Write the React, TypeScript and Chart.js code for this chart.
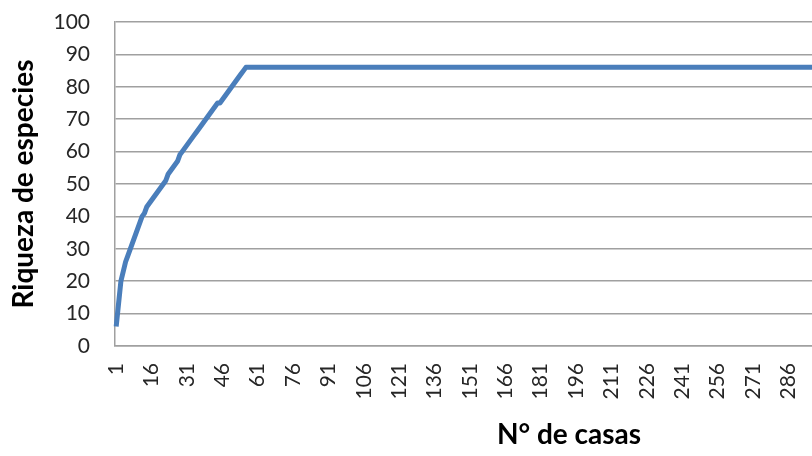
import React, { useEffect, useRef } from "react";
import { Chart, registerables } from "chart.js";

Chart.register(...registerables);

// Species richness (accumulated) per number of houses sampled
const richnessRise = [
  6, 13, 20, 23, 26, 28, 30, 32, 34, 36,
  38, 40, 41, 43, 44, 45, 46, 47, 48, 49,
  50, 51, 53, 54, 55, 56, 57, 59, 60, 61,
  62, 63, 64, 65, 66, 67, 68, 69, 70, 71,
  72, 73, 74, 75, 75, 76, 77, 78, 79, 80,
  81, 82, 83, 84, 85, 86,
];

const richnessPlateau = [
  86, 86, 86, 86, 86, 86, 86, 86, 86, 86, 86, 86, 86, 86, 86, 86, 86, 86, 86, 86,
  86, 86, 86, 86, 86, 86, 86, 86, 86, 86, 86, 86, 86, 86, 86, 86, 86, 86, 86, 86,
  86, 86, 86, 86, 86, 86, 86, 86, 86, 86, 86, 86, 86, 86, 86, 86, 86, 86, 86, 86,
  86, 86, 86, 86, 86, 86, 86, 86, 86, 86, 86, 86, 86, 86, 86, 86, 86, 86, 86, 86,
  86, 86, 86, 86, 86, 86, 86, 86, 86, 86, 86, 86, 86, 86, 86, 86, 86, 86, 86, 86,
  86, 86, 86, 86, 86, 86, 86, 86, 86, 86, 86, 86, 86, 86, 86, 86, 86, 86, 86, 86,
  86, 86, 86, 86, 86, 86, 86, 86, 86, 86, 86, 86, 86, 86, 86, 86, 86, 86, 86, 86,
  86, 86, 86, 86, 86, 86, 86, 86, 86, 86, 86, 86, 86, 86, 86, 86, 86, 86, 86, 86,
  86, 86, 86, 86, 86, 86, 86, 86, 86, 86, 86, 86, 86, 86, 86, 86, 86, 86, 86, 86,
  86, 86, 86, 86, 86, 86, 86, 86, 86, 86, 86, 86, 86, 86, 86, 86, 86, 86, 86, 86,
  86, 86, 86, 86, 86, 86, 86, 86, 86, 86, 86, 86, 86, 86, 86, 86, 86, 86, 86, 86,
  86, 86, 86, 86, 86, 86, 86, 86, 86, 86, 86, 86, 86, 86, 86, 86, 86, 86, 86, 86,
  86, 86, 86, 86, 86, 86, 86, 86, 86, 86, 86, 86, 86, 86, 86, 86, 86, 86, 86, 86,
  86, 86, 86, 86, 86, 86, 86, 86, 86, 86, 86, 86, 86, 86, 86, 86, 86, 86, 86, 86,
  86, 86, 86, 86, 86, 86, 86, 86, 86, 86, 86, 86, 86, 86, 86, 86, 86, 86, 86, 86,
  86, 86, 86, 86, 86, 86, 86, 86, 86, 86, 86, 86, 86, 86, 86, 86, 86, 86, 86, 86,
  86, 86, 86, 86, 86, 86, 86, 86, 86,
];

const richness = [...richnessRise, ...richnessPlateau];
const houseLabels = richness.map((_, i) => String(i + 1));
const labelEvery = 15;
const yMin = 0;
const yMax = 100;
const yStep = 10;

const xTitle = "N° de casas";
const yTitle = "Riqueza de especies";

export default function App() {
  const canvasRef = useRef<HTMLCanvasElement | null>(null);

  useEffect(() => {
    if (!canvasRef.current) return;
    const chart = new Chart(canvasRef.current, {
      type: "line",
      data: {
        labels: houseLabels,
        datasets: [
          {
            data: richness,
            borderColor: "#4a7ebb",
            backgroundColor: "#4a7ebb",
            borderWidth: 5,
            pointRadius: 0,
            tension: 0,
            borderJoinStyle: "round",
            borderCapStyle: "butt",
          },
        ],
      },
      options: {
        animation: false,
        responsive: false,
        layout: { padding: { left: 6, top: 22, right: 3, bottom: 4 } },
        plugins: { legend: { display: false }, tooltip: { enabled: false } },
        scales: {
          x: {
            type: "category",
            offset: true,
            grid: { display: false, drawTicks: false },
            border: { display: true, color: "#a0a0a0", width: 1.5 },
            afterFit: (scale: any) => {
              scale.height = 106;
              scale.paddingLeft = 0;
              scale.paddingRight = 0;
            },
            ticks: {
              autoSkip: false,
              maxRotation: 90,
              minRotation: 90,
              padding: 17,
              color: "#262626",
              font: { family: "Lato", size: 21 },
              callback: (_v: any, i: number) =>
                i % labelEvery === 0 ? houseLabels[i] : null,
            },
            title: {
              display: true,
              text: xTitle,
              color: "#000",
              font: { family: "Lato", size: 28, weight: "bold" },
              padding: { top: 4, bottom: 0 },
            },
          },
          y: {
            min: yMin,
            max: yMax,
            grid: { color: "#a0a0a0", lineWidth: 1.5, drawTicks: false },
            border: { display: true, color: "#a0a0a0", width: 1.5 },
            afterFit: (scale: any) => {
              scale.width = 109;
              scale.paddingTop = 0;
              scale.paddingBottom = 0;
            },
            ticks: {
              stepSize: yStep,
              padding: 25,
              color: "#262626",
              font: { family: "Lato", size: 21 },
            },
            title: {
              display: true,
              text: yTitle,
              color: "#000",
              font: { family: "Lato", size: 28, weight: "bold" },
              padding: { top: 1, bottom: 10 },
            },
          },
        },
      },
    });
    return () => chart.destroy();
  }, []);

  return (
    <div
      style={{
        position: "fixed",
        left: 0,
        top: 0,
        width: 812,
        height: 456,
        overflow: "hidden",
        background: "#fff",
      }}
    >
      <canvas ref={canvasRef} width={1026} height={456} style={{ display: "block" }} />
    </div>
  );
}
